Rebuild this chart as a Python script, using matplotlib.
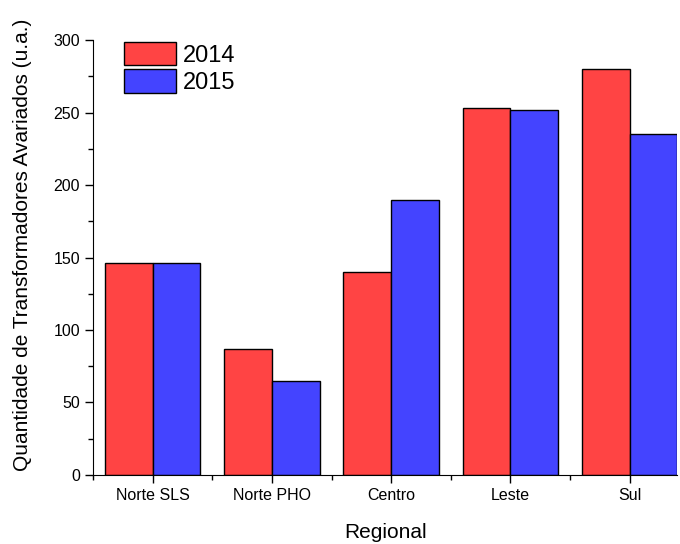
import numpy as np
import matplotlib
matplotlib.use('Agg')
import matplotlib.pyplot as plt
from matplotlib.ticker import MultipleLocator, FixedLocator

plt.rcParams['font.family'] = ['Liberation Sans', 'DejaVu Sans']

# data
regions = ['Norte SLS', 'Norte PHO', 'Centro', 'Leste', 'Sul']
vals_2014 = [146, 87, 140, 253, 280]
vals_2015 = [146, 65, 190, 252, 235]

x = np.arange(1, len(regions) + 1)
w = 0.4

fig = plt.figure(figsize=(6.8, 5.44), dpi=100)
ax = fig.add_axes([0.137, 0.127, 0.859, 0.799])

ax.bar(x - w / 2, vals_2014, w, color='#FF4444', edgecolor='black', linewidth=1, label='2014')
ax.bar(x + w / 2, vals_2015, w, color='#4444FF', edgecolor='black', linewidth=1, label='2015')

ax.set_xlim(0.5, 5.4)
ax.set_ylim(0, 300)
ax.set_xticks(x)
ax.set_xticklabels(regions, fontsize=11.5)
ax.xaxis.set_minor_locator(FixedLocator(np.arange(0.5, 5.6, 1)))
ax.yaxis.set_major_locator(MultipleLocator(50))
ax.yaxis.set_minor_locator(MultipleLocator(25))
ax.tick_params(axis='y', labelsize=11.5)
ax.tick_params(which='major', length=6, width=1, direction='out')
ax.tick_params(which='minor', length=3.5, width=1, direction='out')

for s in ['top', 'right']:
    ax.spines[s].set_visible(False)

ax.set_xlabel('Regional', fontsize=15, labelpad=14)
ax.set_ylabel('Quantidade de Transformadores Avariados (u.a.)', fontsize=15)
ax.yaxis.set_label_coords(-0.105, 0.53)

leg = ax.legend(loc='upper left', bbox_to_anchor=(0.037, 1.018), frameon=False, fontsize=17,
                handlelength=2.2, handleheight=1.15, handletextpad=0.3, labelspacing=0.12,
                borderaxespad=0)

fig.savefig('out.png', dpi=100)
